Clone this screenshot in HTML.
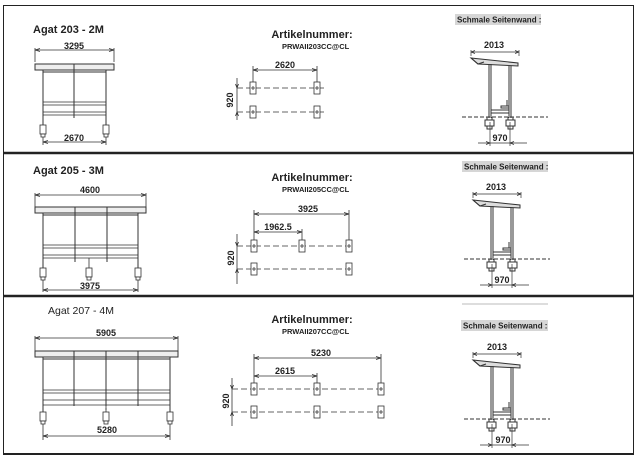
<!DOCTYPE html>
<html><head><meta charset="utf-8"><style>
html,body{margin:0;padding:0;background:#fff;width:640px;height:456px;overflow:hidden}
svg{display:block}
text{font-family:"Liberation Sans","DejaVu Sans",sans-serif;fill:#222}
</style></head><body>
<svg width="640" height="456" viewBox="0 0 640 456" xmlns="http://www.w3.org/2000/svg">
<defs>
<g id="side" stroke="#333" fill="none" stroke-width="1">
  <path d="M471 56 V50 M519 56 V50 M471 52 H519" stroke-width="0.7"/>
  <path d="M471 52 l4 -1.5 M471 52 l4 1.5 M519 52 l-4 -1.5 M519 52 l-4 1.5" stroke-width="0.7"/>
  <path d="M471 58 L518 63 L518 66 L478 64 Z" fill="#ddd"/>
  <path d="M471 58 L478 64 L484 62"/>
  <path d="M489 64 V118 M491 64 V118 M509 66 V118 M511 66 V118"/>
  <path d="M491 110 H509 M491 113 H509"/>
  <path d="M509 106 H501 V108 H509 M507 100 V106"/>
  <path d="M462 117 H548" stroke-dasharray="4,2"/>
  <rect x="485" y="120" width="9" height="6"/><path d="M487 117 V120 M492 117 V120 M487 126 V129 H492 V126"/>
  <rect x="506" y="120" width="9" height="6"/><path d="M508 117 V120 M513 117 V120 M508 126 V129 H513 V126"/>
  <path d="M490 122 V146 M510 122 V146 M478 143 H527" stroke-width="0.7"/>
  <path d="M490 143 l-4 -1.5 M490 143 l-4 1.5 M510 143 l4 -1.5 M510 143 l4 1.5" stroke-width="0.7"/>
</g>
<g id="foot" stroke="#333" fill="#fff" stroke-width="0.8">
  <path d="M0 -6 V-2"/><rect x="-3" y="-2" width="6" height="9"/><rect x="-2" y="7" width="4" height="3"/>
</g>
<g id="pad" stroke="#333" fill="#fff" stroke-width="0.8">
  <rect x="-3" y="-6" width="6" height="12"/><path d="M-2 0 H2 M0 -2 V2"/>
</g>
</defs>

<g fill="none" stroke="#222">
  <rect x="3.5" y="5.5" width="630" height="448" stroke-width="1"/>
  <path d="M3 153 H634" stroke-width="2.5"/>
  <path d="M3 296 H634" stroke-width="2.5"/>
  <path d="M3 454 H634" stroke-width="2"/>
</g>

<!-- ROW 1 -->
<text x="33" y="33" font-size="11" font-weight="bold">Agat 203 - 2M</text>
<g stroke="#333" fill="none" stroke-width="0.8">
  <path d="M35 48 V62 M114 48 V62 M35 50 H114"/>
  <path d="M35 50 l5 -1.5 M35 50 l5 1.5 M114 50 l-5 -1.5 M114 50 l-5 1.5"/>
  <rect x="35" y="64" width="79" height="6" fill="#eee" stroke-width="1"/>
  <path d="M43 70 V127 M106 70 V127 M74 64 V118 M43 72 H106" stroke-width="1"/>
  <path d="M43 102 H106 M43 105 H106 M43 112 H106 M43 115 H106"/>
  <path d="M43 130 V145 M106 130 V145 M43 142 H106"/>
  <path d="M43 142 l5 -1.5 M43 142 l5 1.5 M106 142 l-5 -1.5 M106 142 l-5 1.5"/>
</g>
<use href="#foot" x="43" y="127"/><use href="#foot" x="106" y="127"/>
<text x="74" y="49" font-size="9" font-weight="bold" text-anchor="middle">3295</text>
<text x="74" y="141" font-size="9" font-weight="bold" text-anchor="middle">2670</text>

<text x="312" y="38" font-size="11" font-weight="bold" text-anchor="middle">Artikelnummer:</text>
<text x="282" y="49" font-size="7.5" font-weight="bold">PRWAII203CC@CL</text>
<g stroke="#333" fill="none" stroke-width="0.8">
  <path d="M253 66 V82 M317 66 V82 M253 70 H317"/>
  <path d="M253 70 l5 -1.5 M253 70 l5 1.5 M317 70 l-5 -1.5 M317 70 l-5 1.5"/>
  <path d="M237 88 H325 M237 112 H325" stroke-dasharray="6,3"/>
  <path d="M237 78 V120 M237 88 l-1.5 -4 M237 88 l1.5 -4 M237 112 l-1.5 4 M237 112 l1.5 4"/>
</g>
<use href="#pad" x="253" y="88"/><use href="#pad" x="317" y="88"/>
<use href="#pad" x="253" y="112"/><use href="#pad" x="317" y="112"/>
<text x="285" y="68" font-size="9" font-weight="bold" text-anchor="middle">2620</text>
<text transform="translate(233,100) rotate(-90)" font-size="9" font-weight="bold" text-anchor="middle">920</text>

<rect x="455" y="14" width="86" height="11" fill="#d6d6d6"/>
<text x="457" y="22.5" font-size="8" font-weight="bold">Schmale Seitenwand :</text>
<use href="#side"/>
<text x="494" y="48" font-size="9" font-weight="bold" text-anchor="middle">2013</text>
<text x="500" y="141" font-size="9" font-weight="bold" text-anchor="middle">970</text>

<!-- ROW 2 -->
<text x="33" y="174" font-size="11" font-weight="bold">Agat 205 - 3M</text>
<g stroke="#333" fill="none" stroke-width="0.8">
  <path d="M35 193 V207 M146 193 V207 M35 195 H146"/>
  <path d="M35 195 l5 -1.5 M35 195 l5 1.5 M146 195 l-5 -1.5 M146 195 l-5 1.5"/>
  <rect x="35" y="207" width="111" height="6" fill="#eee" stroke-width="1"/>
  <path d="M43 213 V270 M138 213 V270 M75 207 V262 M107 207 V262 M43 215 H138" stroke-width="1"/>
  <path d="M43 245 H138 M43 248 H138 M43 255 H138 M43 258 H138"/>
  <path d="M43 275 V292 M138 275 V292 M43 290 H138"/>
  <path d="M43 290 l5 -1.5 M43 290 l5 1.5 M138 290 l-5 -1.5 M138 290 l-5 1.5"/>
  <path d="M89 258 V264"/>
</g>
<use href="#foot" x="43" y="270"/><use href="#foot" x="89" y="270"/><use href="#foot" x="138" y="270"/>
<text x="90" y="193" font-size="9" font-weight="bold" text-anchor="middle">4600</text>
<text x="90" y="289" font-size="9" font-weight="bold" text-anchor="middle">3975</text>

<text x="312" y="181" font-size="11" font-weight="bold" text-anchor="middle">Artikelnummer:</text>
<text x="282" y="192" font-size="7.5" font-weight="bold">PRWAII205CC@CL</text>
<g stroke="#333" fill="none" stroke-width="0.8">
  <path d="M254 210 V240 M349 210 V240 M254 214 H349"/>
  <path d="M254 214 l5 -1.5 M254 214 l5 1.5 M349 214 l-5 -1.5 M349 214 l-5 1.5"/>
  <path d="M302 229 V240 M254 232 H302"/>
  <path d="M254 232 l5 -1.5 M254 232 l5 1.5 M302 232 l-5 -1.5 M302 232 l-5 1.5"/>
  <path d="M237 246 H350 M237 269 H350" stroke-dasharray="6,3"/>
  <path d="M237 234 V284 M237 246 l-1.5 -4 M237 246 l1.5 -4 M237 269 l-1.5 4 M237 269 l1.5 4"/>
</g>
<use href="#pad" x="254" y="246"/><use href="#pad" x="302" y="246"/><use href="#pad" x="349" y="246"/>
<use href="#pad" x="254" y="269"/><use href="#pad" x="349" y="269"/>
<text x="308" y="212" font-size="9" font-weight="bold" text-anchor="middle">3925</text>
<text x="278" y="230" font-size="9" font-weight="bold" text-anchor="middle">1962.5</text>
<text transform="translate(234,258) rotate(-90)" font-size="9" font-weight="bold" text-anchor="middle">920</text>

<rect x="462" y="161" width="86" height="11" fill="#d6d6d6"/>
<text x="464" y="169.5" font-size="8" font-weight="bold">Schmale Seitenwand :</text>
<use href="#side" x="2" y="142"/>
<text x="496" y="190" font-size="9" font-weight="bold" text-anchor="middle">2013</text>
<text x="502" y="283" font-size="9" font-weight="bold" text-anchor="middle">970</text>

<!-- ROW 3 -->
<text x="48" y="314" font-size="10.5">Agat 207 - 4M</text>
<g stroke="#333" fill="none" stroke-width="0.8">
  <path d="M35 336 V351 M178 336 V351 M35 338 H178"/>
  <path d="M35 338 l5 -1.5 M35 338 l5 1.5 M178 338 l-5 -1.5 M178 338 l-5 1.5"/>
  <rect x="35" y="351" width="143" height="6" fill="#eee" stroke-width="1"/>
  <path d="M43 357 V414 M170 357 V414 M74 351 V406 M106 351 V406 M138 351 V406 M43 359 H170" stroke-width="1"/>
  <path d="M43 390 H170 M43 393 H170 M43 400 H170 M43 405 H170"/>
  <path d="M43 420 V440 M170 420 V440 M43 436 H170"/>
  <path d="M43 436 l5 -1.5 M43 436 l5 1.5 M170 436 l-5 -1.5 M170 436 l-5 1.5"/>
  <path d="M106 405 V410"/>
</g>
<use href="#foot" x="43" y="414"/><use href="#foot" x="106" y="414"/><use href="#foot" x="170" y="414"/>
<text x="106" y="336" font-size="9" font-weight="bold" text-anchor="middle">5905</text>
<text x="107" y="433" font-size="9" font-weight="bold" text-anchor="middle">5280</text>

<text x="312" y="323" font-size="11" font-weight="bold" text-anchor="middle">Artikelnummer:</text>
<text x="282" y="334" font-size="7.5" font-weight="bold">PRWAII207CC@CL</text>
<g stroke="#333" fill="none" stroke-width="0.8">
  <path d="M254 354 V383 M381 354 V383 M254 358 H381"/>
  <path d="M254 358 l5 -1.5 M254 358 l5 1.5 M381 358 l-5 -1.5 M381 358 l-5 1.5"/>
  <path d="M317 373 V383 M254 376 H317"/>
  <path d="M254 376 l5 -1.5 M254 376 l5 1.5 M317 376 l-5 -1.5 M317 376 l-5 1.5"/>
  <path d="M232 389 H383 M232 412 H383" stroke-dasharray="6,3"/>
  <path d="M232 378 V426 M232 389 l-1.5 -4 M232 389 l1.5 -4 M232 412 l-1.5 4 M232 412 l1.5 4"/>
</g>
<use href="#pad" x="254" y="389"/><use href="#pad" x="317" y="389"/><use href="#pad" x="381" y="389"/>
<use href="#pad" x="254" y="412"/><use href="#pad" x="317" y="412"/><use href="#pad" x="381" y="412"/>
<text x="321" y="356" font-size="9" font-weight="bold" text-anchor="middle">5230</text>
<text x="285" y="374" font-size="9" font-weight="bold" text-anchor="middle">2615</text>
<text transform="translate(229,401) rotate(-90)" font-size="9" font-weight="bold" text-anchor="middle">920</text>

<path d="M462 304 H548" stroke="#ddd" stroke-width="2"/>
<rect x="461" y="320" width="87" height="11" fill="#d6d6d6"/>
<text x="463" y="328.5" font-size="8" font-weight="bold">Schmale Seitenwand :</text>
<use href="#side" x="2" y="302"/>
<text x="497" y="350" font-size="9" font-weight="bold" text-anchor="middle">2013</text>
<text x="503" y="443" font-size="9" font-weight="bold" text-anchor="middle">970</text>
</svg>
</body></html>
